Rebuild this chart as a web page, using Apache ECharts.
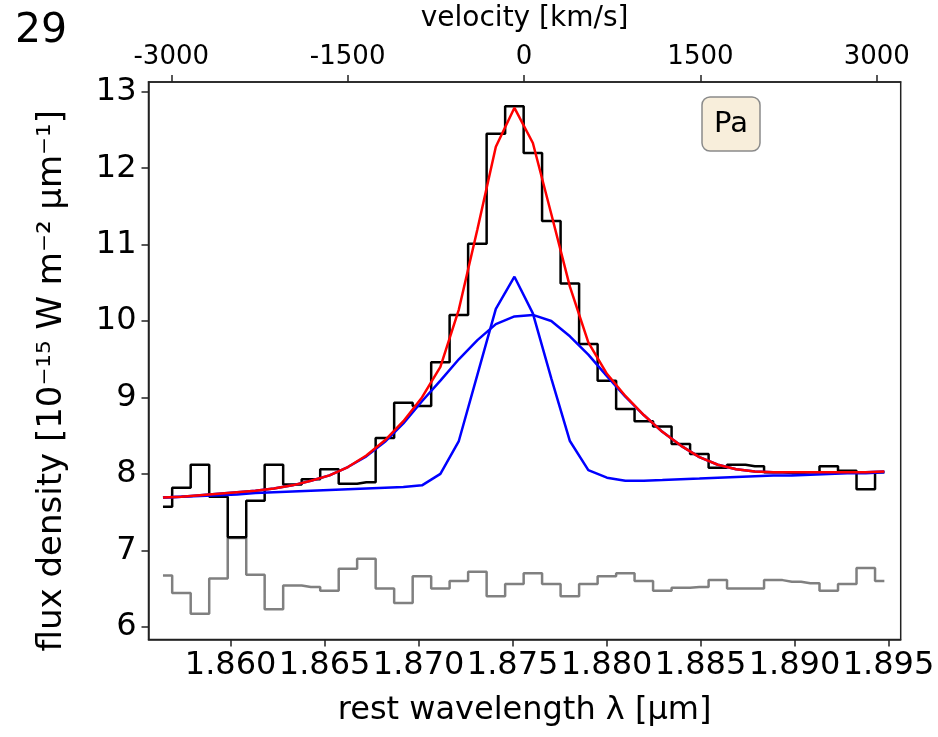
<!DOCTYPE html>
<html>
<head>
<meta charset="utf-8">
<script src="https://cdn.jsdelivr.net/npm/echarts@6/dist/echarts.min.js"></script>
<style>
html,body{margin:0;padding:0;background:#fff;}
#chart{width:938px;height:737px;}
</style>
</head>
<body>
<div id="chart"></div>
<script>
// rest wavelength of bin centres [µm]
const wavelength = [1.85640,1.85738,1.85837,1.85935,1.86034,1.86132,1.86230,1.86329,1.86427,1.86526,
  1.86624,1.86722,1.86821,1.86919,1.87018,1.87116,1.87214,1.87313,1.87411,1.87510,
  1.87608,1.87706,1.87805,1.87903,1.88002,1.88100,1.88198,1.88297,1.88395,1.88494,
  1.88592,1.88690,1.88789,1.88887,1.88986,1.89084,1.89182,1.89281,1.89379,1.89478];
// observed flux density (black step)
const fluxObs = [7.57,7.82,8.12,7.70,7.17,7.65,8.12,7.86,7.93,8.06,
  7.87,7.89,8.47,8.93,8.89,9.46,10.08,11.01,12.45,12.81,
  12.20,11.31,10.49,9.70,9.22,8.85,8.69,8.62,8.39,8.26,
  8.08,8.12,8.10,8.02,8.01,8.02,8.10,8.04,7.80,8.02];
// grey step (error / residual spectrum)
const fluxGrey = [6.67,6.44,6.17,6.63,7.16,6.68,6.23,6.54,6.52,6.47,
  6.76,6.89,6.50,6.31,6.66,6.50,6.60,6.72,6.40,6.56,
  6.70,6.56,6.40,6.56,6.66,6.70,6.60,6.47,6.51,6.52,
  6.61,6.50,6.50,6.61,6.59,6.57,6.47,6.56,6.77,6.60];
// total fit (red)
const fitTotal = [7.69,7.70,7.72,7.74,7.76,7.78,7.81,7.85,7.91,7.98,
  8.09,8.24,8.44,8.69,9.00,9.40,10.15,11.20,12.28,12.79,
  12.33,11.40,10.45,9.72,9.31,9.02,8.77,8.55,8.37,8.22,
  8.12,8.06,8.03,8.02,8.02,8.02,8.02,8.02,8.02,8.03];
// narrow component + continuum (blue)
const fitNarrow = [7.69,7.70,7.71,7.72,7.73,7.75,7.76,7.77,7.78,7.79,
  7.80,7.81,7.82,7.83,7.85,8.00,8.43,9.30,10.16,10.58,
  10.10,9.25,8.43,8.05,7.95,7.91,7.91,7.92,7.93,7.94,
  7.95,7.96,7.97,7.98,7.98,7.99,8.00,8.01,8.01,8.02];
// broad component + continuum (blue)
const fitBroad = [7.69,7.70,7.72,7.74,7.76,7.78,7.81,7.85,7.91,7.98,
  8.09,8.23,8.42,8.66,8.95,9.22,9.50,9.75,9.96,10.06,
  10.08,10.00,9.80,9.56,9.28,9.01,8.77,8.55,8.37,8.22,
  8.12,8.06,8.03,8.02,8.02,8.02,8.02,8.02,8.02,8.03];

const wlTicks = [1.860,1.865,1.870,1.875,1.880,1.885,1.890,1.895];
const velTicks = [-3000,-1500,0,1500,3000];
const yTicks = [6,7,8,9,10,11,12,13];
const wlRange = [1.85563, 1.89565];
const yRange = [5.833, 13.128];
const lambda0 = 1.87561;      // Pa alpha rest wavelength [µm]
const cLight = 299792.458;    // km/s

const lineLabel = 'Pa';
const panelLabel = '29';

const velRange = wlRange.map(l => (l / lambda0 - 1) * cLight);
const pairs = arr => wavelength.map((w, i) => [w, arr[i]]);

const FONT = 'DejaVu Sans';
const chart = echarts.init(document.getElementById('chart'), null, {renderer: 'canvas'});

const axisLineStyle = {color: '#222', width: 1.5};

chart.setOption({
  animation: false,
  backgroundColor: '#fff',
  title: [
    {text: panelLabel, left: 10, top: 6,
     textStyle: {fontFamily: FONT, fontSize: 41, fontWeight: 'normal', color: '#000'}},
    {text: lineLabel, left: 702, top: 97,
     backgroundColor: '#f8eedb', borderColor: '#8a8a8a', borderWidth: 1.5, borderRadius: 8,
     padding: [13, 12, 12, 12],
     textStyle: {fontFamily: FONT, fontSize: 29, fontWeight: 'normal', color: '#000'}}
  ],
  grid: {left: 148.5, right: 37.3, top: 80, bottom: 97.5, show: true,
         borderColor: '#222', borderWidth: 1.5, backgroundColor: 'transparent'},
  xAxis: [
    {type: 'value', position: 'bottom', min: wlRange[0], max: wlRange[1],
     name: 'rest wavelength λ [μm]', nameLocation: 'middle', nameGap: 55,
     nameTextStyle: {fontFamily: FONT, fontSize: 32, color: '#000'},
     axisLine: {show: true, onZero: false, lineStyle: axisLineStyle},
     axisTick: {show: true, inside: false, length: 7, customValues: wlTicks, lineStyle: axisLineStyle},
     axisLabel: {show: true, customValues: wlTicks, margin: 10,
                 fontFamily: FONT, fontSize: 32, color: '#000',
                 formatter: v => v.toFixed(3)},
     splitLine: {show: false}},
    {type: 'value', position: 'top', min: velRange[0], max: velRange[1],
     name: 'velocity [km/s]', nameLocation: 'middle', nameGap: 49,
     nameTextStyle: {fontFamily: FONT, fontSize: 28, color: '#000'},
     axisLine: {show: true, onZero: false, lineStyle: axisLineStyle},
     axisTick: {show: true, inside: false, length: 7, customValues: velTicks, lineStyle: axisLineStyle},
     axisLabel: {show: true, customValues: velTicks, margin: 12,
                 fontFamily: FONT, fontSize: 26, color: '#000',
                 formatter: v => String(Math.round(v))},
     splitLine: {show: false}}
  ],
  yAxis: [
    {type: 'value', min: yRange[0], max: yRange[1],
     name: 'flux density [10⁻¹⁵ W m⁻² μm⁻¹]', nameLocation: 'middle', nameRotate: 90, nameGap: 79,
     nameTextStyle: {fontFamily: FONT, fontSize: 34, color: '#000', padding: [0, 40, 0, 0]},
     axisLine: {show: true, onZero: false, lineStyle: axisLineStyle},
     axisTick: {show: true, inside: false, length: 7, customValues: yTicks, lineStyle: axisLineStyle},
     axisLabel: {show: true, customValues: yTicks, margin: 12,
                 fontFamily: FONT, fontSize: 32, color: '#000'},
     splitLine: {show: false}}
  ],
  series: [
    {name: 'grey', type: 'line', xAxisIndex: 0, data: pairs(fluxGrey), step: 'middle',
     symbol: 'none', lineStyle: {color: '#808080', width: 2.5}, z: 2},
    {name: 'observed', type: 'line', xAxisIndex: 0, data: pairs(fluxObs), step: 'middle',
     symbol: 'none', lineStyle: {color: '#000000', width: 2.5}, z: 3},
    {name: 'broad', type: 'line', xAxisIndex: 0, data: pairs(fitBroad),
     symbol: 'none', lineStyle: {color: '#0000ff', width: 2.5}, z: 4},
    {name: 'narrow', type: 'line', xAxisIndex: 0, data: pairs(fitNarrow),
     symbol: 'none', lineStyle: {color: '#0000ff', width: 2.5}, z: 5},
    {name: 'total', type: 'line', xAxisIndex: 0, data: pairs(fitTotal),
     symbol: 'none', lineStyle: {color: '#ff0000', width: 2.5}, z: 6}
  ]
});
</script>
</body>
</html>
